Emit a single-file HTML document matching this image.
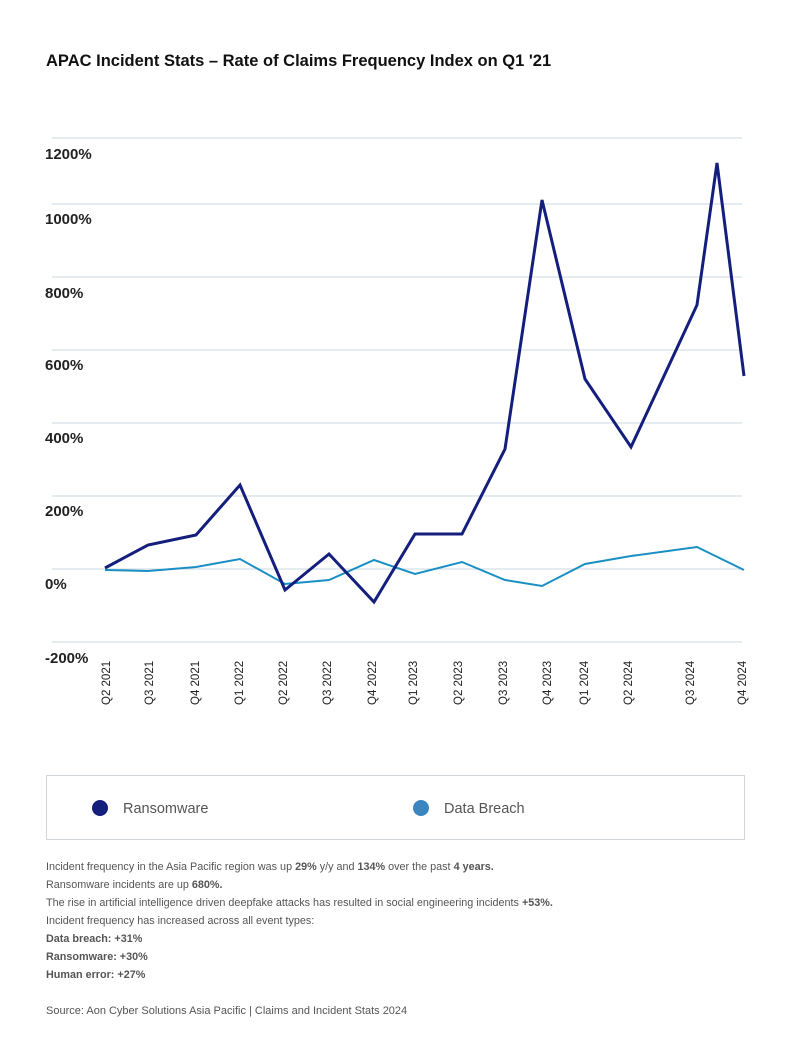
<!DOCTYPE html>
<html><head><meta charset="utf-8"><style>
body{margin:0;background:#fff;font-family:"Liberation Sans",sans-serif;}
.wrap{position:relative;width:787px;height:1046px;overflow:hidden;}
.t{position:absolute;white-space:nowrap;}
.foot{position:absolute;left:46px;font-size:10.8px;color:#555;white-space:nowrap;}
.foot b{color:#555}
</style></head><body><div class="wrap">
<div class="t" style="left:46px;top:52px;font-size:16.5px;font-weight:bold;color:#111;">APAC Incident Stats – Rate of Claims Frequency Index on Q1 '21</div>
<svg width="787" height="1046" style="position:absolute;left:0;top:0">
<g stroke="#c9d8df" stroke-width="1">
<line x1="52" x2="742" y1="138" y2="138"/><line x1="52" x2="742" y1="204" y2="204"/>
<line x1="52" x2="742" y1="277" y2="277"/><line x1="52" x2="742" y1="350" y2="350"/>
<line x1="52" x2="742" y1="423" y2="423"/><line x1="52" x2="742" y1="496" y2="496"/>
<line x1="52" x2="742" y1="569" y2="569"/><line x1="52" x2="742" y1="642" y2="642"/>
</g>
<g font-family="Liberation Sans,sans-serif" font-size="15" font-weight="bold" fill="#222">
<text x="45" y="159">1200%</text><text x="45" y="224">1000%</text><text x="45" y="298">800%</text>
<text x="45" y="370">600%</text><text x="45" y="443">400%</text><text x="45" y="516">200%</text>
<text x="45" y="589">0%</text><text x="45" y="663">-200%</text>
</g>
<polyline fill="none" stroke="#1a8fc4" stroke-width="2" points="105,570 148,571 196,567 240,559 285,584 329,580 374,560 415,574 462,562 505,580 542,586 585,564 631,556 697,547 744,570"/>
<polyline fill="none" stroke="#141e7c" stroke-width="3" stroke-linejoin="miter" points="105,568 148,545 196,535 240,485 285,590 329,554 374,602 415,534 462,534 505,449 542,200 585,379 631,447 697,305 717,163 744,376"/>
<g font-family="Liberation Sans,sans-serif" font-size="11.5" fill="#222">
<text transform="translate(110,705) rotate(-90)">Q2 2021</text>
<text transform="translate(153,705) rotate(-90)">Q3 2021</text>
<text transform="translate(199,705) rotate(-90)">Q4 2021</text>
<text transform="translate(243,705) rotate(-90)">Q1 2022</text>
<text transform="translate(287,705) rotate(-90)">Q2 2022</text>
<text transform="translate(331,705) rotate(-90)">Q3 2022</text>
<text transform="translate(376,705) rotate(-90)">Q4 2022</text>
<text transform="translate(417,705) rotate(-90)">Q1 2023</text>
<text transform="translate(462,705) rotate(-90)">Q2 2023</text>
<text transform="translate(507,705) rotate(-90)">Q3 2023</text>
<text transform="translate(551,705) rotate(-90)">Q4 2023</text>
<text transform="translate(588,705) rotate(-90)">Q1 2024</text>
<text transform="translate(632,705) rotate(-90)">Q2 2024</text>
<text transform="translate(694,705) rotate(-90)">Q3 2024</text>
<text transform="translate(746,705) rotate(-90)">Q4 2024</text>
</g>
<rect x="46.5" y="775.5" width="698" height="64" fill="none" stroke="#d0d6da"/>
<circle cx="100" cy="808" r="8" fill="#141e7c"/>
<circle cx="421" cy="808" r="8" fill="#3a86c0"/>
<g font-family="Liberation Sans,sans-serif" font-size="14.5" fill="#555">
<text x="123" y="813">Ransomware</text><text x="444" y="813">Data Breach</text>
</g>
</svg>
<div class="foot" style="top:861px">Incident frequency in the Asia Pacific region was up <b>29%</b> y/y and <b>134%</b> over the past <b>4 years.</b></div>
<div class="foot" style="top:879px">Ransomware incidents are up <b>680%.</b></div>
<div class="foot" style="top:897px">The rise in artificial intelligence driven deepfake attacks has resulted in social engineering incidents <b>+53%.</b></div>
<div class="foot" style="top:915px">Incident frequency has increased across all event types:</div>
<div class="foot" style="top:933px"><b>Data breach: +31%</b></div>
<div class="foot" style="top:951px"><b>Ransomware: +30%</b></div>
<div class="foot" style="top:969px"><b>Human error: +27%</b></div>
<div class="foot" style="top:1005px;font-size:11px">Source: Aon Cyber Solutions Asia Pacific | Claims and Incident Stats 2024</div>
</div></body></html>
